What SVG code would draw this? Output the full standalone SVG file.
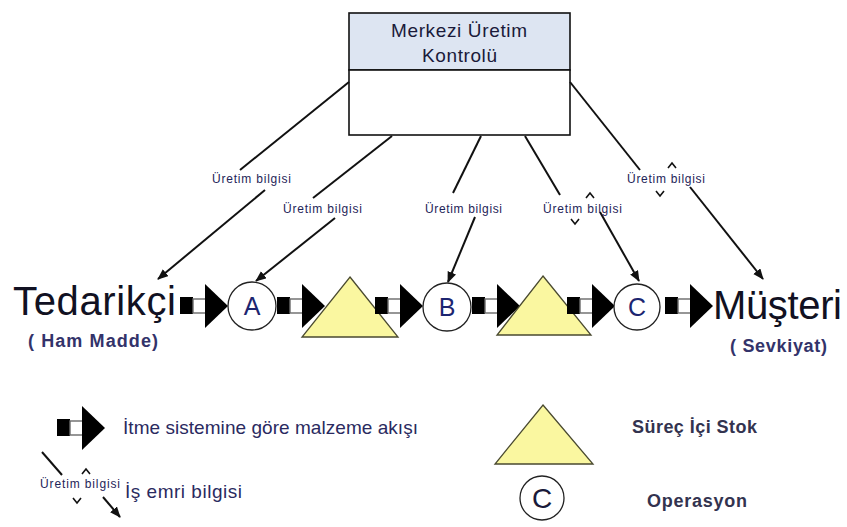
<svg xmlns="http://www.w3.org/2000/svg" xmlns:xlink="http://www.w3.org/1999/xlink" width="847" height="527" viewBox="0 0 847 527">
<style>
  .t { font-family: "Liberation Sans", Arial, sans-serif; fill: #1a1a3a; }
  .big { font-size: 40px; fill: #111122; }
  .sub { font-size: 18px; font-weight: bold; fill: #33336a; }
  .lbl { font-size: 12px; fill: #1e2458; }
  .leg { font-size: 19px; fill: #2a2a60; }
  .legb { font-size: 18px; font-weight: bold; fill: #33334f; }
  .op { fill: #ffffff; stroke: #222; stroke-width: 1.3; }
  .opl { font-size: 25px; fill: #1c2570; text-anchor: middle; }
  .stock { fill: #FAF7A0; stroke: #4a4a30; stroke-width: 1.3; stroke-linejoin: miter; }
  .conn { stroke: #111; stroke-width: 2; fill: none; }
  .caret { stroke: #111; stroke-width: 1.6; fill: none; }
</style>
<defs>
  <marker id="ah" markerUnits="userSpaceOnUse" markerWidth="12" markerHeight="10" refX="10" refY="4.5" orient="auto">
    <path d="M0,0 L11,4.5 L0,9 z" fill="#111"/>
  </marker>
  <g id="fat">
    <rect x="0" y="-9" width="13" height="17" fill="#000"/>
    <rect x="13" y="-7" width="13" height="14" fill="#fff" stroke="#6a6a6a" stroke-width="1.4"/>
    <polygon points="25,-22 48,0 25,22" fill="#000"/>
  </g>
</defs>

<!-- Central control box -->
<g id="control">
  <rect x="349" y="13" width="221" height="57" fill="#DDE5F2" stroke="#111" stroke-width="1.6"/>
  <rect x="349" y="70" width="221" height="65" fill="#ffffff" stroke="#111" stroke-width="1.6"/>
  <text class="t" x="391" y="37" font-size="19" textLength="136" lengthAdjust="spacing">Merkezi Üretim</text>
  <text class="t" x="422" y="62" font-size="19" textLength="75" lengthAdjust="spacing">Kontrolü</text>
</g>

<!-- Connectors (information flow) -->
<g id="connectors">
  <line class="conn" x1="349" y1="82" x2="240" y2="170"/>
  <line class="conn" x1="265" y1="190" x2="158" y2="279" marker-end="url(#ah)"/>

  <line class="conn" x1="392" y1="136" x2="313" y2="198"/>
  <line class="conn" x1="335" y1="218" x2="256" y2="281" marker-end="url(#ah)"/>

  <line class="conn" x1="481" y1="136" x2="453" y2="193"/>
  <line class="conn" x1="475" y1="217" x2="448" y2="282" marker-end="url(#ah)"/>

  <line class="conn" x1="525" y1="136" x2="560" y2="195"/>
  <line class="conn" x1="600" y1="212" x2="639" y2="281" marker-end="url(#ah)"/>
  <polyline class="caret" points="586,198 590,193 594,198"/>
  <polyline class="caret" points="571,219 575,224 579,219"/>

  <line class="conn" x1="570" y1="82" x2="640" y2="170"/>
  <line class="conn" x1="690" y1="187" x2="763" y2="279" marker-end="url(#ah)"/>
  <polyline class="caret" points="668,168 672,163 676,168"/>
  <polyline class="caret" points="656,191 660,196 664,191"/>

  <!-- material push arrows (under the stock triangles) -->
  <use xlink:href="#fat" x="277" y="306"/>
  <use xlink:href="#fat" x="472" y="306"/>
</g>

<!-- Connector labels -->
<g id="conn-labels">
  <text class="t lbl" x="212" y="183" textLength="79" lengthAdjust="spacing">Üretim bilgisi</text>
  <text class="t lbl" x="283" y="213" textLength="79" lengthAdjust="spacing">Üretim bilgisi</text>
  <text class="t lbl" x="425" y="213" textLength="77" lengthAdjust="spacing">Üretim bilgisi</text>
  <text class="t lbl" x="543" y="213" textLength="79" lengthAdjust="spacing">Üretim bilgisi</text>
  <text class="t lbl" x="627" y="183" textLength="78" lengthAdjust="spacing">Üretim bilgisi</text>
</g>

<!-- Stocks -->
<g id="stock1"><polygon class="stock" points="350,277 398,337 302,337"/></g>
<g id="stock2"><polygon class="stock" points="543,276 591,335 497,335"/></g>

<!-- Push arrows on top -->
<g id="push-arrows">
  <use xlink:href="#fat" x="180" y="306"/>
  <use xlink:href="#fat" x="375" y="306"/>
  <use xlink:href="#fat" x="567" y="306"/>
  <use xlink:href="#fat" x="665" y="306"/>
</g>

<!-- Supplier -->
<g id="supplier">
  <text class="t big" x="13" y="315" textLength="163" lengthAdjust="spacing">Tedarikçi</text>
  <text class="t sub" x="28" y="347" textLength="130" lengthAdjust="spacing">( Ham Madde)</text>
</g>

<!-- Operations -->
<g id="opA">
  <circle class="op" cx="252" cy="306" r="24"/>
  <text class="t opl" x="252" y="315">A</text>
</g>
<g id="opB">
  <circle class="op" cx="447" cy="307" r="24"/>
  <text class="t opl" x="447" y="316">B</text>
</g>
<g id="opC">
  <circle class="op" cx="637" cy="307" r="23"/>
  <text class="t opl" x="637" y="316">C</text>
</g>

<!-- Customer -->
<g id="customer">
  <text class="t big" x="713" y="319" textLength="129" lengthAdjust="spacing">Müşteri</text>
  <text class="t sub" x="730" y="352" textLength="97" lengthAdjust="spacing">( Sevkiyat)</text>
</g>

<!-- Legend -->
<g id="legend-push">
  <use xlink:href="#fat" x="57" y="428"/>
  <text class="t leg" x="123" y="434" font-size="18" textLength="295" lengthAdjust="spacing">İtme sistemine göre malzeme akışı</text>
</g>
<g id="legend-info">
  <line class="conn" x1="42" y1="452" x2="62" y2="475"/>
  <line class="conn" x1="103" y1="497" x2="120" y2="517" marker-end="url(#ah)"/>
  <polyline class="caret" points="82,474 86,469 90,474"/>
  <polyline class="caret" points="73,498 77,503 81,498"/>
  <text class="t lbl" x="40" y="488" textLength="80" lengthAdjust="spacing">Üretim bilgisi</text>
  <text class="t leg" x="125" y="498" textLength="117" lengthAdjust="spacing">İş emri bilgisi</text>
</g>
<g id="legend-stock">
  <polygon class="stock" points="543,405 593,464 495,464"/>
  <text class="t legb" x="632" y="433" textLength="125" lengthAdjust="spacing">Süreç İçi Stok</text>
</g>
<g id="legend-op">
  <circle class="op" cx="542" cy="498" r="22"/>
  <text class="t" x="542" y="508" font-size="28" text-anchor="middle" fill="#444">C</text>
  <text class="t legb" x="647" y="507" textLength="100" lengthAdjust="spacing">Operasyon</text>
</g>
</svg>
